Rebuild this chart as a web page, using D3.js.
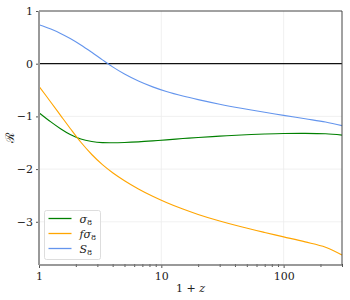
<!DOCTYPE html>
<html>
<head>
<meta charset="utf-8">
<script src="https://cdn.jsdelivr.net/npm/d3@7"></script>
<style>
  body { margin: 0; background: #fff; }
</style>
</head>
<body>
<div id="chart"></div>
<script>
// 1+z sample points and the three curves
const onePlusZ = [1, 1.25, 1.5, 1.8, 2.2, 2.7, 3.3, 4, 5, 6.5, 8.5, 11, 15, 20, 30, 45, 70, 100, 150, 220, 300];
const sigma8 = [-0.93, -1.105, -1.235, -1.345, -1.43, -1.475, -1.497, -1.50, -1.495, -1.483, -1.465, -1.445, -1.42, -1.40, -1.375, -1.352, -1.335, -1.325, -1.322, -1.33, -1.355];
const fsigma8 = [-0.43, -0.731, -0.981, -1.229, -1.491, -1.723, -1.916, -2.069, -2.22, -2.376, -2.515, -2.633, -2.758, -2.86, -2.985, -3.095, -3.203, -3.286, -3.381, -3.482, -3.63];
const S8 = [0.74, 0.657, 0.575, 0.479, 0.356, 0.216, 0.072, -0.061, -0.197, -0.329, -0.44, -0.528, -0.614, -0.682, -0.768, -0.845, -0.922, -0.981, -1.046, -1.107, -1.175];

const seriesNames = ["σ8", "fσ8", "S8"];
const seriesColors = ["#008000", "#ffa500", "#6495ed"];
const xTicks = [1, 10, 100];
const yTicks = [1, 0, -1, -2, -3];

const width = 350, height = 300;
const margin = { left: 39, right: 8, top: 11, bottom: 35 };
const serif = "DejaVu Serif";

const svg = d3.select("#chart").append("svg")
  .attr("width", width)
  .attr("height", height)
  .attr("font-family", serif);

const x = d3.scaleLog()
  .domain([1, 300])
  .range([margin.left, width - margin.right]);

const y = d3.scaleLinear()
  .domain([-3.82, 1])
  .range([height - margin.bottom, margin.top]);

// grid
svg.append("g")
  .selectAll("line.gx")
  .data(xTicks.slice(1))
  .enter().append("line")
  .attr("x1", d => x(d)).attr("x2", d => x(d))
  .attr("y1", y.range()[1]).attr("y2", y.range()[0])
  .attr("stroke", "#ececec").attr("stroke-width", 0.8);

svg.append("g")
  .selectAll("line.gy")
  .data(yTicks.filter(d => d < 0))
  .enter().append("line")
  .attr("x1", x.range()[0]).attr("x2", x.range()[1])
  .attr("y1", d => y(d)).attr("y2", d => y(d))
  .attr("stroke", "#ececec").attr("stroke-width", 0.8);

// zero line
svg.append("line")
  .attr("x1", x.range()[0]).attr("x2", x.range()[1])
  .attr("y1", y(0)).attr("y2", y(0))
  .attr("stroke", "#111").attr("stroke-width", 1.3);

// curves
const line = d3.line()
  .x((d, i) => x(onePlusZ[i]))
  .y(d => y(d))
  .curve(d3.curveCatmullRom.alpha(0.5));

[sigma8, fsigma8, S8].forEach((vals, k) => {
  svg.append("path")
    .attr("d", line(vals))
    .attr("fill", "none")
    .attr("stroke", seriesColors[k])
    .attr("stroke-width", 1.1);
});

// axes
const xAxis = d3.axisBottom(x)
  .tickValues(d3.range(1, 10).concat(d3.range(10, 100, 10), [100, 200, 300]))
  .tickSize(3)
  .tickFormat(d => xTicks.includes(d) ? d : "");

const gx = svg.append("g")
  .attr("transform", `translate(0,${y.range()[0]})`)
  .call(xAxis)
  .attr("font-family", serif);
gx.select(".domain").remove();
gx.selectAll(".tick line")
  .attr("stroke", "#555")
  .attr("y2", d => xTicks.includes(d) ? 3 : 2)
  .attr("y1", d => xTicks.includes(d) ? 0 : -1);
gx.selectAll(".tick text")
  .attr("fill", "#222")
  .attr("font-size", 11)
  .attr("dy", "0.85em");

const yAxis = d3.axisLeft(y)
  .tickValues(yTicks)
  .tickSize(3)
  .tickFormat(d => d < 0 ? "\u2212" + Math.abs(d) : d);

const gy = svg.append("g")
  .attr("transform", `translate(${x.range()[0]},0)`)
  .call(yAxis)
  .attr("font-family", serif);
gy.select(".domain").remove();
gy.selectAll(".tick line").attr("stroke", "#555");
gy.selectAll(".tick text")
  .attr("fill", "#222")
  .attr("font-size", 11);

// frame
const [x0, x1] = x.range();
const [yb, yt] = y.range();
svg.append("line").attr("x1", x0).attr("x2", x1).attr("y1", yt).attr("y2", yt)
  .attr("stroke", "#444").attr("stroke-width", 1);
svg.append("line").attr("x1", x1).attr("x2", x1).attr("y1", yt).attr("y2", yb)
  .attr("stroke", "#444").attr("stroke-width", 1);
svg.append("line").attr("x1", x0).attr("x2", x1).attr("y1", yb).attr("y2", yb)
  .attr("stroke", "#777").attr("stroke-width", 1.3);
svg.append("line").attr("x1", x0).attr("x2", x0).attr("y1", yt).attr("y2", yb)
  .attr("stroke", "#999").attr("stroke-width", 2);

// axis labels
svg.append("text")
  .attr("x", (x0 + x1) / 2)
  .attr("y", 292)
  .attr("text-anchor", "middle")
  .attr("font-size", 11)
  .attr("fill", "#222")
  .html("1 + <tspan font-style='italic'>z</tspan>");

svg.append("text")
  .attr("transform", `translate(14,${(yt + yb) / 2}) rotate(-90)`)
  .attr("text-anchor", "middle")
  .attr("font-size", 12)
  .attr("fill", "#222")
  .text("ℛ");

// legend
const legend = svg.append("g").attr("transform", "translate(44.5,210.5)");
legend.append("rect")
  .attr("width", 56).attr("height", 49).attr("rx", 2)
  .attr("fill", "#fff").attr("fill-opacity", 0.8)
  .attr("stroke", "#ddd");

seriesNames.forEach((name, i) => {
  const ly = 8 + i * 15;
  legend.append("line")
    .attr("x1", 4).attr("x2", 27)
    .attr("y1", ly).attr("y2", ly)
    .attr("stroke", seriesColors[i]).attr("stroke-width", 1.3);
  const t = legend.append("text")
    .attr("x", 35).attr("y", ly + 4)
    .attr("font-size", 11)
    .attr("fill", "#222")
    .attr("font-style", "italic");
  const base = name.slice(0, -1);
  t.append("tspan").text(base);
  t.append("tspan").attr("font-size", 8).attr("font-style", "normal").attr("dy", 2).text("8");
});
</script>
</body>
</html>
